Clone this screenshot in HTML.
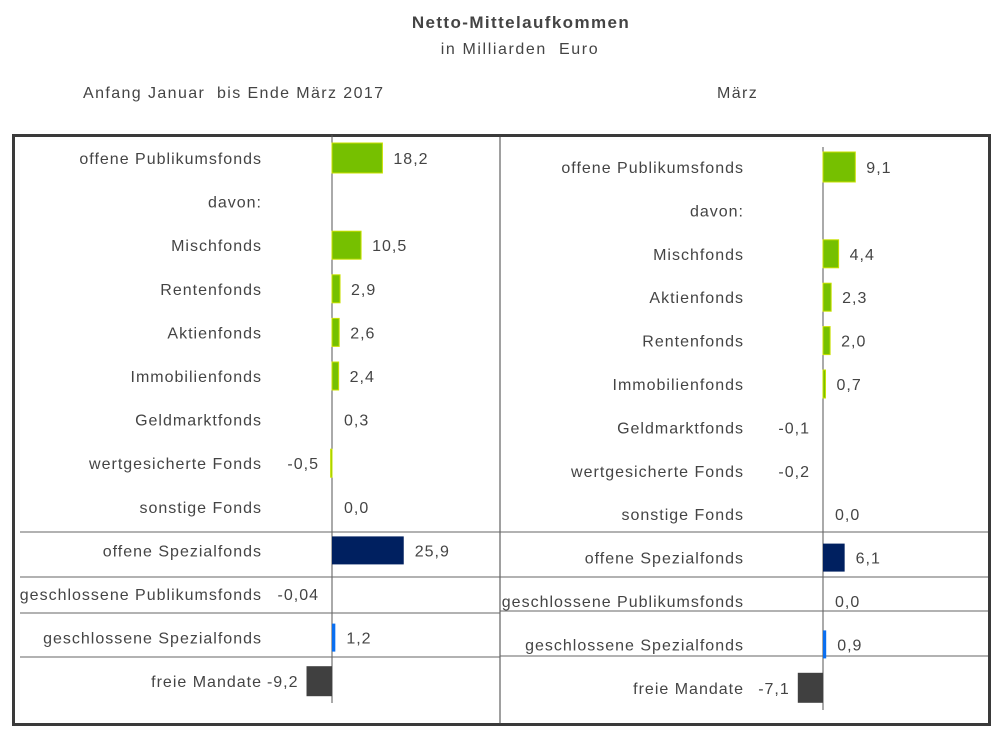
<!DOCTYPE html>
<html><head><meta charset="utf-8"><style>
html,body{margin:0;padding:0;background:#fff;}
svg{display:block;font-family:"Liberation Sans",sans-serif;}
text{fill:#444;font-size:16px;letter-spacing:1px;white-space:pre;}
</style></head><body>
<svg id="c" width="999" height="736" viewBox="0 0 999 736">
<text x="521" y="28" text-anchor="middle" style="font-weight:bold;font-size:17px;letter-spacing:1.4px">Netto-Mittelaufkommen</text>
<text x="520" y="54" text-anchor="middle" style="letter-spacing:1.6px">in Milliarden  Euro</text>
<text x="83" y="98" style="letter-spacing:1.4px">Anfang Januar  bis Ende März 2017</text>
<text x="717" y="98" style="letter-spacing:1.4px">März</text>
<rect x="13.5" y="135.5" width="976" height="589" fill="none" stroke="#3a3a3a" stroke-width="3"/>
<line x1="500" y1="135" x2="500" y2="724" stroke="#404040" stroke-width="1"/>
<g id="g"></g>
</svg>
<script>
const categoriesLeft = ["offene Publikumsfonds","davon:","Mischfonds","Rentenfonds","Aktienfonds","Immobilienfonds","Geldmarktfonds","wertgesicherte Fonds","sonstige Fonds","offene Spezialfonds","geschlossene Publikumsfonds","geschlossene Spezialfonds","freie Mandate"];
const valuesLeft = [18.2,null,10.5,2.9,2.6,2.4,0.3,-0.5,0.0,25.9,-0.04,1.2,-9.2];
const labelsLeft = ["18,2","","10,5","2,9","2,6","2,4","0,3","-0,5","0,0","25,9","-0,04","1,2","-9,2"];
const categoriesRight = ["offene Publikumsfonds","davon:","Mischfonds","Aktienfonds","Rentenfonds","Immobilienfonds","Geldmarktfonds","wertgesicherte Fonds","sonstige Fonds","offene Spezialfonds","geschlossene Publikumsfonds","geschlossene Spezialfonds","freie Mandate"];
const valuesRight = [9.1,null,4.4,2.3,2.0,0.7,-0.1,-0.2,0.0,6.1,0.0,0.9,-7.1];
const labelsRight = ["9,1","","4,4","2,3","2,0","0,7","-0,1","-0,2","0,0","6,1","0,0","0,9","-7,1"];
const groups = ["g","n","g","g","g","g","g","g","g","s","c","b","f"];

const NS="http://www.w3.org/2000/svg";
const G=document.getElementById('g');
function mk(t,a){const e=document.createElementNS(NS,t);for(const k in a)e.setAttribute(k,a[k]);G.appendChild(e);return e;}
const colors={g:"#76c000",s:"#002060",b:"#0a6ff0",f:"#404040",c:"#76c000"};

function panel(side,cats,vals,labs,o){
  const x=v=>o.axis+v*o.k;
  const y=i=>o.y0+i*o.step;
  const ax=mk('line',{x1:o.axis,y1:o.ay1,x2:o.axis,y2:o.ay2,stroke:"#555","stroke-width":1});
  
  
  o.seps.forEach((sy,j)=>{
    const l=mk('line',{x1:o.sx1,y1:sy,x2:o.sx2,y2:sy,stroke:"#666","stroke-width":1});
    
    
  });
  cats.forEach((c,i)=>{
    const cy=y(i);
    const t=mk('text',{x:o.labX,y:cy+6,"text-anchor":"end"});t.textContent=c;
    
    
    const v=vals[i]; if(v===null) return;
    const h=(i===0||i===12)?30:28;
    const x0=Math.min(x(0),x(v)), w=Math.abs(x(v)-x(0));
    if(w>=1.2){
      const r=mk('rect',{x:x0,y:cy-h/2,width:w,height:h,fill:colors[groups[i]],stroke:groups[i]==="g"?"#c8e000":"none","stroke-width":groups[i]==="g"?1:0});
      
      
    }
    let vt;
    if(v<0){ vt=mk('text',{x:Math.min(o.axis-13,x(v)-8),y:cy+6,"text-anchor":"end"}); }
    else { vt=mk('text',{x:Math.max(o.axis+12,x(v)+11),y:cy+6}); }
    vt.textContent=labs[i];
    
    
  });
}
panel('left',categoriesLeft,valuesLeft,labelsLeft,{axis:332,k:2.77,y0:158,step:43.6,ay1:135,ay2:703,labX:262,seps:[532,577,613,657],sx1:20,sx2:500});
panel('right',categoriesRight,valuesRight,labelsRight,{axis:823,k:3.55,y0:167,step:43.4,ay1:147,ay2:710,labX:744,seps:[532,577,611,656],sx1:500,sx2:988});
</script>
</body></html>
